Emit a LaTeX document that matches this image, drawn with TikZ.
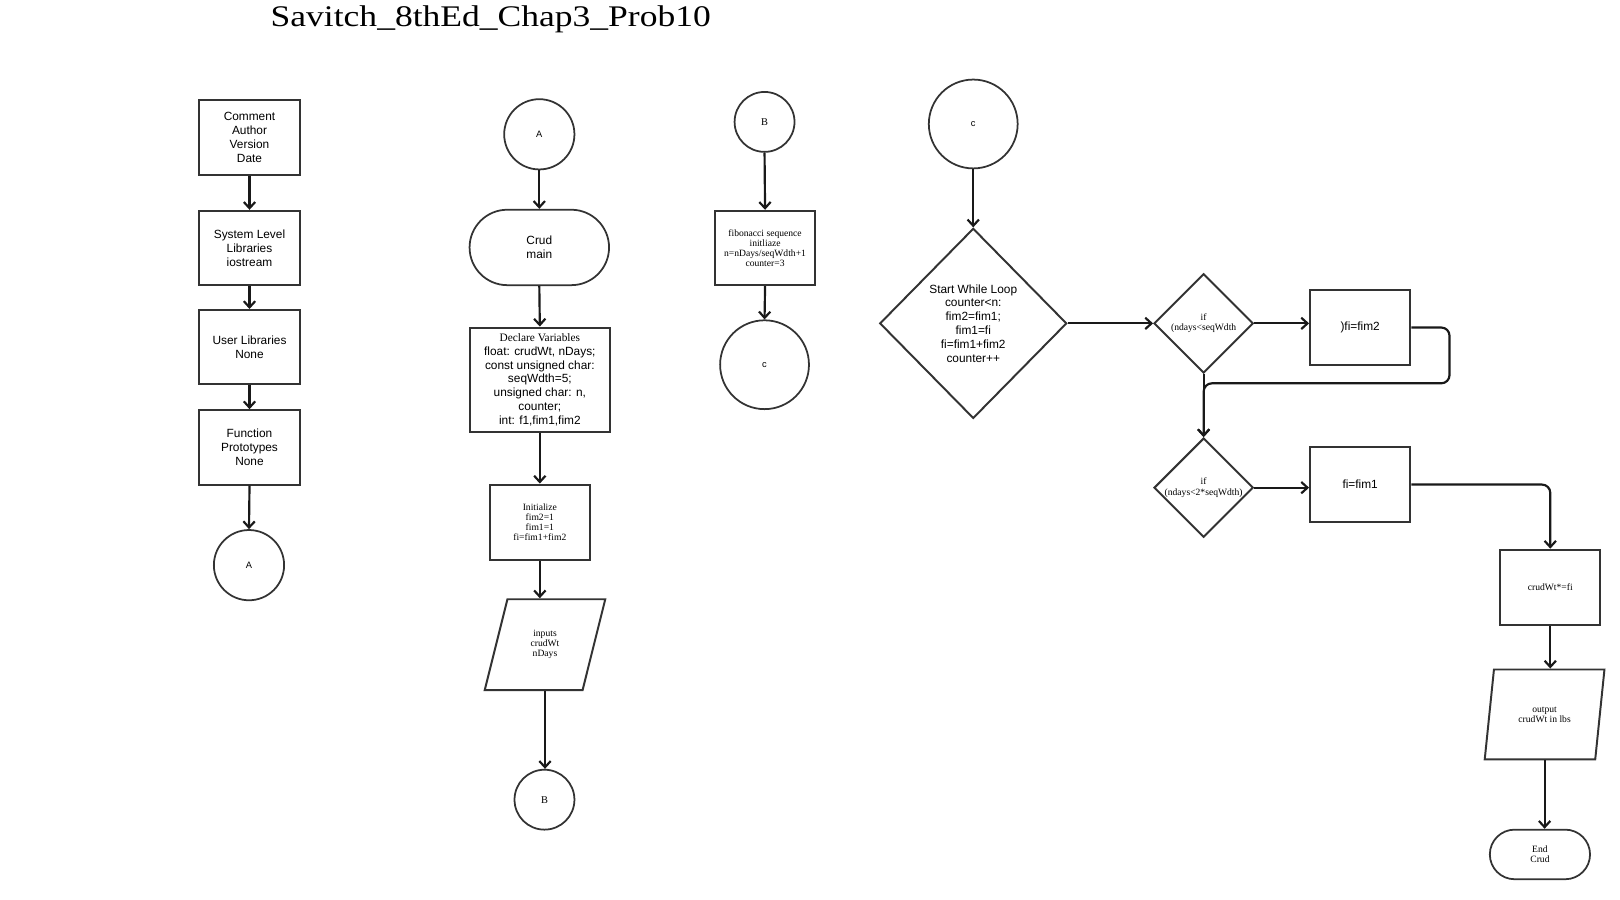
\documentclass[tikz,border=0pt]{standalone}
\usepackage{graphicx}
\usepackage{fontspec}
\setmainfont{Liberation Serif}[Ligatures=NoCommon]
\setsansfont{Liberation Sans}[Ligatures=NoCommon]
\usetikzlibrary{arrows.meta,shapes.geometric,shapes.misc}
\begin{document}
\begin{tikzpicture}[x=1pt,y=-1pt,
  every node/.style={inner sep=0pt, align=center},
  box/.style={rectangle, draw=black!80, line width=1.9pt, minimum width=97pt, minimum height=72pt},
  circ/.style={circle, draw=black!80, line width=1.7pt},
  term/.style={rounded rectangle, draw=black!80, line width=1.7pt},
  dia/.style={diamond, draw=black!80, line width=1.9pt},
  para/.style={trapezium, trapezium stretches=true, trapezium left angle=73, trapezium right angle=107, draw=black!80, line width=1.9pt},
  arr/.style={line width=2.1pt, draw=black!90, -{Straight Barb[length=6pt,width=11pt]}},
  sf/.style={font=\sffamily\fontsize{11.5}{13.4}\selectfont},
  tm/.style={font=\rmfamily\fontsize{9.3}{9.7}\selectfont},
  lett/.style={font=\sffamily\fontsize{9}{10}\selectfont},
]
\useasboundingbox (0,0) rectangle (1568,871);

% title
\node[font=\rmfamily\fontsize{29}{29}\selectfont, anchor=base] (title) at (475,26) {\scalebox{1.186}[1]{Savitch\_8thEd\_Chap3\_Prob10}};

% column 1
\node[box, sf] (h1) at (241.5,133) {Comment\\Author\\Version\\Date};
\node[box, sf] (h2) at (241.5,240) {System Level\\Libraries\\iostream};
\node[box, sf] (h3) at (241.5,336) {User Libraries\\None};
\node[box, sf] (h4) at (241.5,433) {Function\\Prototypes\\None};
\node[circ, lett, minimum size=68pt] (a1) at (241,547) {A};
\draw[arr] (h1.south) -- (h2.north);
\draw[arr] (h2.south) -- (h3.north);
\draw[arr] (h3.south) -- (h4.north);
\draw[arr] (h4.south) -- (a1.north);

% column 2
\node[circ, lett, minimum size=68pt] (a2) at (522,130) {A};
\node[term, sf, minimum width=135pt, minimum height=73pt] (crud) at (522,239.5) {Crud\\main};
\node[box, sf, minimum width=135pt, minimum height=101pt] (decl) at (522.5,367.5)
  {{\rmfamily\fontsize{11}{13.3}\selectfont Declare Variables}\\float: crudWt, nDays;\\const unsigned char:\\seqWdth=5;\\unsigned char: n,\\counter;\\int: f1,fim1,fim2};
\node[box, tm, minimum height=73pt] (init) at (522.5,505.5) {Initialize\\fim2=1\\fim1=1\\fi=fim1+fim2};
\node[para, tm, minimum width=117pt, minimum height=88pt] (inp) at (527.5,624) {inputs\\crudWt\\nDays};
\node[circ, font=\rmfamily\fontsize{10}{10}\selectfont, minimum size=58pt] (b1) at (527,774) {B};
\draw[arr] (a2.south) -- (crud.north);
\draw[arr] (crud.south) -- (decl.north);
\draw[arr] (decl.south) -- (init.north);
\draw[arr] (init.south) -- (init.south |- inp.north);
\draw[arr] (inp.south) -- (inp.south |- b1.north);

% column 3
\node[circ, font=\rmfamily\fontsize{10}{10}\selectfont, minimum size=58pt] (b2) at (740,118) {B};
\node[box, tm] (fib) at (740.5,240) {fibonacci sequence\\initliaze\\n=nDays/seqWdth+1\\counter=3};
\node[circ, lett, minimum size=86pt] (c1) at (740,353) {c};
\draw[arr] (b2.south) -- (fib.north);
\draw[arr] (fib.south) -- (c1.north);

% column 4
\node[circ, lett, minimum size=86pt] (c2) at (942,120) {c};
\node[dia, sf, minimum width=181pt, minimum height=184pt] (loop) at (942,313)
  {Start While Loop\\counter<n:\\fim2=fim1;\\fim1=fi\\fi=fim1+fim2\\counter++};
\node[dia, tm, minimum width=96pt, minimum height=96pt] (d2) at (1165,313) {if\\(ndays<seqWdth};
\node[box, sf] (fim2) at (1316.5,317) {)fi=fim2};
\node[dia, tm, minimum width=96pt, minimum height=96pt] (d3) at (1165,472) {if\\(ndays<2*seqWdth)};
\node[box, sf] (fim1) at (1316.5,469) {fi=fim1};
\node[box, tm, minimum height=73pt] (mul) at (1500.5,568.5) {crudWt*=fi};
\node[para, tm, minimum width=116pt, minimum height=87pt] (outp) at (1495,691.5) {output\\crudWt in lbs};
\node[term, tm, minimum width=97pt, minimum height=48pt] (endt) at (1490.5,827) {End\\Crud};
\coordinate (r1) at (1403,371);

\draw[arr] (c2.south) -- (loop.north);
\draw[arr] (loop.east) -- (d2.west);
\draw[arr] (d2.east) -- (d2.east -| fim2.west);
\draw[arr] (d2.south) -- (d3.north);
\draw[arr, rounded corners=8pt] (fim2.east) -| (r1) -| (d3.north);
\draw[arr] (d3.east) -- (d3.east -| fim1.west);
\draw[arr, rounded corners=8pt] (fim1.east) -| (mul.north);
\draw[arr] (mul.south) -- (mul.south |- outp.north);
\draw[arr] (outp.south) -- (outp.south |- endt.north);
\end{tikzpicture}
\end{document}
